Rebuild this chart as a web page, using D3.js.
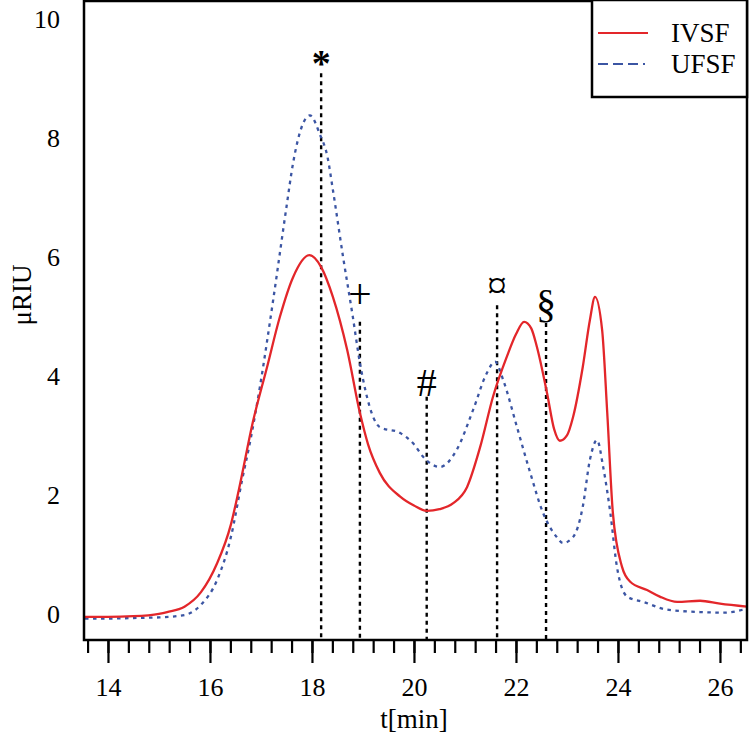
<!DOCTYPE html>
<html><head><meta charset="utf-8">
<script src="https://cdn.jsdelivr.net/npm/d3@7"></script>
<style>body{margin:0;background:#fff}svg{display:block}</style>
</head><body>
<svg id="c" width="750" height="738"></svg>
<script>
const seriesNames = ["IVSF", "UFSF"];
const ivsfT = [13.55,14.0,14.5,15.0,15.16,15.5,15.82,16.14,16.41,16.57,16.84,17.12,17.37,17.63,17.95,18.18,18.41,18.69,18.94,19.1,19.33,19.73,20.0,20.25,20.5,20.77,21.04,21.3,21.55,21.82,22.0,22.16,22.3,22.41,22.61,22.75,22.86,23.0,23.12,23.31,23.45,23.55,23.69,23.79,23.9,24.08,24.24,24.57,24.82,25.16,25.61,26.0,26.53];
const ivsfV = [-0.05,-0.05,-0.04,0.0,0.03,0.12,0.36,0.85,1.5,2.1,3.22,4.15,4.99,5.66,6.03,5.83,5.33,4.44,3.38,2.85,2.37,1.97,1.82,1.73,1.76,1.86,2.13,2.81,3.65,4.32,4.7,4.91,4.8,4.49,3.71,3.1,2.91,3.0,3.31,4.15,4.94,5.33,4.77,3.38,1.70,0.79,0.54,0.4,0.29,0.2,0.22,0.17,0.12];
const ufsfT = [13.55,14.0,14.5,15.0,15.5,15.82,16.14,16.41,16.63,16.8,16.98,17.24,17.5,17.63,17.96,18.16,18.3,18.41,18.61,18.8,18.94,19.05,19.2,19.33,19.73,20.0,20.18,20.51,20.84,21.16,21.43,21.59,21.75,22.02,22.28,22.53,22.8,22.92,23.12,23.31,23.45,23.59,23.71,23.85,23.98,24.18,24.5,24.96,25.61,26.1,26.45];
const ufsfV = [-0.08,-0.08,-0.07,-0.06,-0.02,0.15,0.57,1.29,2.25,2.95,3.82,5.28,6.84,7.58,8.38,8.05,7.7,7.13,6.0,5.0,4.22,3.75,3.31,3.14,3.04,2.85,2.64,2.47,2.76,3.43,4.05,4.24,3.93,3.14,2.37,1.70,1.29,1.19,1.29,1.8,2.59,2.92,2.47,1.70,0.79,0.29,0.2,0.07,0.03,0.02,0.07];
const markerT = [18.18, 18.94, 20.25, 21.63, 22.59];
const markerTop = [9.09, 4.91, 3.65, 5.19, 4.89];
const markerLabels = ["*", "+", "#", "¤", "§"];
const yTicks = [0, 2, 4, 6, 8, 10];
const xMajor = [14, 16, 18, 20, 22, 24, 26];
const xMinor = d3.range(0, 33).map(i => +(13.6 + 0.4 * i).toFixed(1));

const FONT = "'Liberation Serif', 'Times New Roman', serif";
const svg = d3.select("#c");
const L = 84, R = 748, T = 1, B = 640;
const x = d3.scaleLinear().domain([13.53, 26.55]).range([L, R]);
const y = d3.scaleLinear().domain([-0.44, 10.32]).range([B, 0]);

const red = "#e3262a", blue = "#3b55a3";
const line = d3.line().x(d => x(d[0])).y(d => y(d[1])).curve(d3.curveMonotoneX);

// marker lines
markerT.forEach((t, i) => {
  svg.append("line").attr("x1", x(t)).attr("x2", x(t)).attr("y1", y(markerTop[i])).attr("y2", B)
    .attr("stroke", "#000").attr("stroke-width", 2.4).attr("stroke-dasharray", "4,4");
});
// label: gap above line top (px), font size, glyph center height (em)
const labelStyle = [
  {gap: 17, fs: 38, c: 0.52, fw: "bold"},
  {gap: 24, fs: 42, c: 0.25},
  {gap: 14, fs: 40, c: 0.34},
  {gap: 18, fs: 40, c: 0.30},
  {gap: 16, fs: 40, c: 0.26}
];
markerT.forEach((t, i) => {
  const s = labelStyle[i];
  const cy = y(markerTop[i]) - s.gap;
  svg.append("text").attr("x", x(t)).attr("y", cy + s.c * s.fs)
    .attr("text-anchor", "middle").style("font-size", s.fs + "px").style("font-weight", s.fw || "normal")
    .text(markerLabels[i]);
});

// curves
svg.append("path").datum(ufsfT.map((t, i) => [t, ufsfV[i]])).attr("d", line)
  .attr("fill", "none").attr("stroke", blue).attr("stroke-width", 2.3).attr("stroke-dasharray", "3.5,4.5");
svg.append("path").datum(ivsfT.map((t, i) => [t, ivsfV[i]])).attr("d", line)
  .attr("fill", "none").attr("stroke", red).attr("stroke-width", 2.3);

// box
svg.append("rect").attr("x", L).attr("y", T).attr("width", R - L - 1).attr("height", B - T)
  .attr("fill", "none").attr("stroke", "#000").attr("stroke-width", 2.5);

// x axis ticks
const gx = svg.append("g").attr("transform", `translate(0,${B})`);
gx.call(d3.axisBottom(x).tickValues(xMinor).tickSize(13).tickFormat(""))
  .call(g => g.select(".domain").remove())
  .call(g => g.selectAll("line").attr("stroke-width", 2.2));
gx.append("g").call(d3.axisBottom(x).tickValues(xMajor).tickSize(23).tickFormat(d3.format("d")))
  .call(g => g.select(".domain").remove())
  .call(g => g.selectAll("line").attr("stroke-width", 2.2))
  .call(g => g.selectAll("text").style("font-size", "26px").attr("fill", "#000").attr("dy", "0.71em").attr("y", 38));

// y axis labels (no ticks)
const gy = svg.append("g").attr("transform", `translate(${L},0)`);
gy.call(d3.axisLeft(y).tickValues(yTicks).tickSize(0).tickPadding(24).tickFormat(d3.format("d")))
  .call(g => g.select(".domain").remove())
  .call(g => g.selectAll("text").style("font-size", "26px").attr("fill", "#000"));

// axis titles
svg.append("text").attr("x", 414).attr("y", 728).attr("text-anchor", "middle").style("font-size", "27px").text("t[min]");
svg.append("text").attr("transform", "translate(31,295) rotate(-90)").attr("text-anchor", "middle").style("font-size", "27px").text("μRIU");

// legend
const lg = svg.append("g");
lg.append("rect").attr("x", 592).attr("y", 0).attr("width", 155).attr("height", 97)
  .attr("fill", "#fff").attr("stroke", "#000").attr("stroke-width", 2.5);
lg.append("line").attr("x1", 598).attr("x2", 648).attr("y1", 33).attr("y2", 33).attr("stroke", red).attr("stroke-width", 2.2);
lg.append("line").attr("x1", 598).attr("x2", 649).attr("y1", 64).attr("y2", 64).attr("stroke", blue).attr("stroke-width", 2.2).attr("stroke-dasharray", "10,5,10,5,10,5,2,5");
lg.selectAll("text.lt").data(seriesNames).join("text").attr("class", "lt")
  .attr("x", 671).attr("y", (d, i) => 33 + i * 31).attr("dy", "0.35em").style("font-size", "27px").text(d => d);

svg.selectAll("text").style("font-family", FONT);
</script>
</body></html>
